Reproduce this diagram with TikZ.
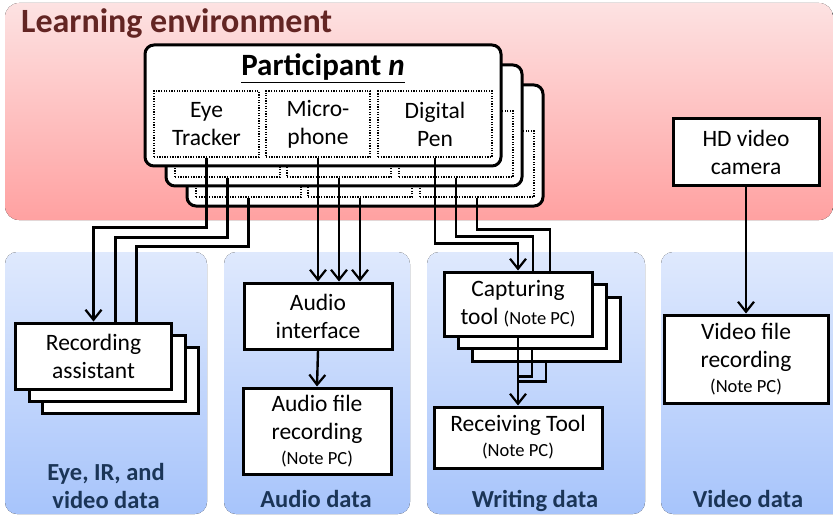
\documentclass[tikz,border=0pt]{standalone}
\usepackage{fontspec}
\setmainfont{Carlito}
\usetikzlibrary{arrows.meta}
\definecolor{envred}{HTML}{632523}
\definecolor{envtop}{HTML}{FDE2E2}
\definecolor{envbot}{HTML}{FFA1A1}
\definecolor{paneltop}{HTML}{DFE9FD}
\definecolor{panelbot}{HTML}{A7C4FB}
\definecolor{datablue}{HTML}{1B3557}
\newcommand\notepc{{\fontsize{18.5}{22}\selectfont(Note PC)}}
\tikzset{
  dev/.style={draw,line width=3pt,fill=white,align=center,inner sep=0pt},
  layer/.style={dev,rounded corners=9pt,minimum width=356pt,minimum height=121pt},
  sensor/.style={draw,dash pattern=on 1.3pt off 1.3pt,line width=1.3pt,inner sep=0pt,minimum height=66pt,align=center},
  wire/.style={line width=2.4pt},
  feed/.style={wire,-{Straight Barb[length=10pt,width=16pt,line width=2.2pt]}},
  panel/.style={rounded corners=12pt,top color=paneltop,bottom color=panelbot},
  paneltitle/.style={font=\bfseries\fontsize{24.5}{28}\selectfont,text=datablue,align=center}
}
\begin{document}
\begin{tikzpicture}[x=1pt,y=-1pt,font=\fontsize{23.5}{28}\selectfont]
  \useasboundingbox (0,0) rectangle (833,516);
  \fill[top color=envtop,bottom color=envbot,rounded corners=14pt] (5,3) rectangle (833,220);
  \node[anchor=base west,inner sep=0pt,font=\bfseries\fontsize{34}{40}\selectfont,text=envred] (envtitle) at (21,33) {Learning environment};
  \foreach \l/\r in {5/207, 224/410, 427/645, 661/845}
    \fill[panel] (\l,252) rectangle (\r,514);
  \node[paneltitle] (eyedata) at (106,486) {Eye, IR, and\\video data};
  \node[paneltitle,anchor=base] (audiodata) at (316,507) {Audio data};
  \node[paneltitle,anchor=base] (writingdata) at (535,507) {Writing data};
  \node[paneltitle,anchor=base] (videodata) at (748,507) {Video data};

  \foreach \k in {2,1} {
    \node[layer] (part\k) at (323+21*\k,105.5+20*\k) {};
    \foreach \s/\x/\w in {eye/206.5/105, mic/318/104, pen/435/114}
      \node[sensor,minimum width=\w pt] (\s\k) at (\x+21*\k,124+20*\k) {};
  }
  \node[layer] (part0) at (323,105.5) {};
  \node[font=\bfseries\fontsize{31}{36}\selectfont] (parttitle) at (323,68) {\underline{Participant \textit{n}}};
  \node[sensor,minimum width=105pt] (eye0) at (206.5,124) {Eye\\Tracker};
  \node[sensor,minimum width=104pt] (mic0) at (318,124) {Micro-\\phone};
  \node[sensor,minimum width=114pt] (pen0) at (435,124) {Digital\\Pen};

  \foreach \k in {2,1}
    \node[dev,minimum width=156pt,minimum height=66pt] (rec\k) at (93.5+13.5*\k,356+12*\k) {};
  \node[dev,minimum width=156pt,minimum height=66pt] (rec0) at (93.5,356) {Recording\\assistant};

  \node[dev,minimum width=148pt,minimum height=66pt] (aud) at (318,316) {Audio\\interface};
  \node[dev,minimum width=148pt,minimum height=86pt] (afile) at (317,431) {Audio file\\recording\\[-3pt]\notepc};

  \foreach \k in {2,1}
    \node[dev,minimum width=148pt,minimum height=64pt] (cap\k) at (518+14*\k,304+12.5*\k) {};
  \node[dev,minimum width=148pt,minimum height=64pt] (cap0) at (518,304) {Capturing\\tool \notepc};
  \node[dev,minimum width=168pt,minimum height=61pt] (recv) at (518,437.5) {Receiving Tool\\[-3pt]\notepc};

  \node[dev,minimum width=146pt,minimum height=67pt] (cam) at (746,152.5) {HD video\\camera};
  \node[dev,minimum width=164pt,minimum height=88pt] (vfile) at (746,359) {Video file\\recording\\[-3pt]\notepc};

  \draw[feed] (eye0.south) -- ++(0,70) -| (rec0.north);
  \foreach \k/\h/\dx in {1/60/22, 2/49/43}
    \draw[wire] (eye\k.south) -- ++(0,\h) -| ([xshift=\dx pt]rec0.north);
  \foreach \k in {0,1,2}
    \draw[feed] (mic\k.south) -- (mic\k.south |- aud.north);
  \draw[feed] (pen0.south) -- ++(0,86) -| (cap0.north);
  \foreach \k/\h/\dx in {1/59/15, 2/32/32}
    \draw[wire] (pen\k.south) -- ++(0,\h) -| ([xshift=\dx pt]cap0.north);
  \draw[feed] (aud.south) -- (afile.north);
  \draw[feed] (cap0.south) -- (recv.north);
  \draw[wire] (cap1.south) |- ([yshift=29pt]recv.north);
  \draw[wire] (cap2.south) |- ([yshift=24pt]recv.north);
  \draw[feed] (cam.south) -- (vfile.north);
\end{tikzpicture}
\end{document}
